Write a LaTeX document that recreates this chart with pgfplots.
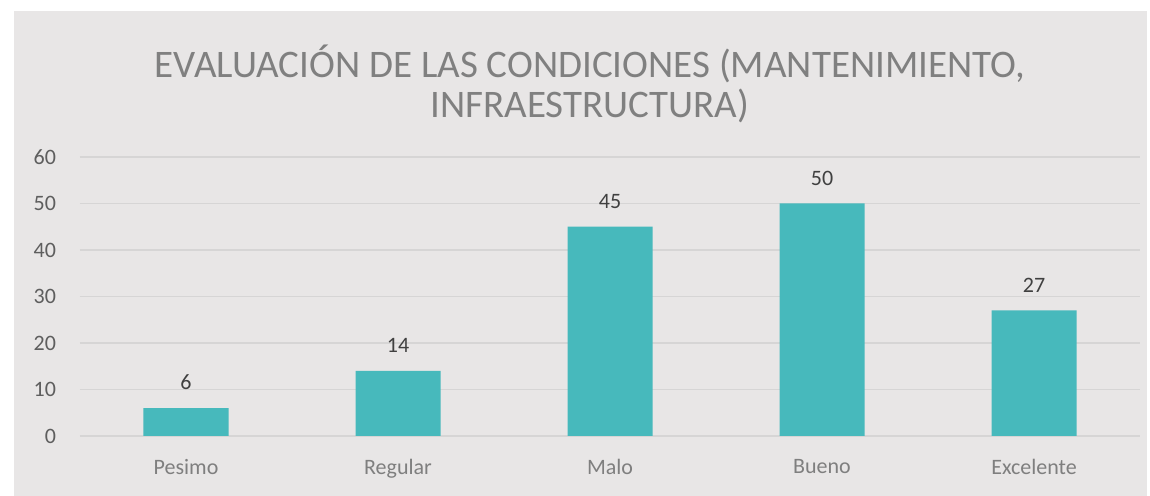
\documentclass[border=0pt]{standalone}
\usepackage{fontspec}
\setmainfont{Carlito}
\usepackage{pgfplots}
\pgfplotsset{compat=1.18}
\definecolor{bgc}{HTML}{E8E6E6}
\definecolor{barc}{HTML}{47B9BC}
\definecolor{gridc}{HTML}{D6D5D5}
\definecolor{titlec}{HTML}{808080}
\definecolor{tickc}{HTML}{5E5E5E}
\definecolor{catc}{HTML}{7F7F7F}
\definecolor{labc}{HTML}{404040}
\begin{document}
\begin{tikzpicture}[x=1pt,y=1pt]
% canvas: 1 px of the reference = 0.5 pt
\fill[white] (0,0) rectangle (575,248);
\fill[bgc] (7,0) rectangle (573.5,242.5);
\begin{axis}[
    at={(40pt,30pt)}, anchor=south west,
    scale only axis,
    width=530pt, height=139.5pt,
    xmin=-0.5, xmax=4.5, ymin=0, ymax=60,
    ybar, bar width=42.5pt,
    xtick={0,1,2,3,4},
    xticklabels={Pesimo,Regular,Malo,Bueno,Excelente},
    ytick={0,10,...,60},
    ymajorgrids,
    grid style={gridc, line width=0.8pt},
    axis line style={draw=none},
    major tick length=0pt,
    /pgf/number format/assume math mode=true,
    yticklabel style={font=\fontsize{11}{13}\selectfont, text=tickc, xshift=-8.5pt},
    xticklabel style={font=\fontsize{11}{13}\selectfont, text=catc, yshift=-8pt},
    nodes near coords,
    nodes near coords style={font=\fontsize{11}{13}\selectfont, text=labc, anchor=south, yshift=5.5pt},
]
\addplot[fill=barc, draw=none] coordinates {(0,6) (1,14) (2,45) (3,50) (4,27)};
\end{axis}
\node[align=center, text=titlec, font=\fontsize{19.5}{20}\selectfont] at (295,206)
    {EVALUACIÓN DE LAS CONDICIONES (MANTENIMIENTO,\\INFRAESTRUCTURA)};
\end{tikzpicture}
\end{document}
